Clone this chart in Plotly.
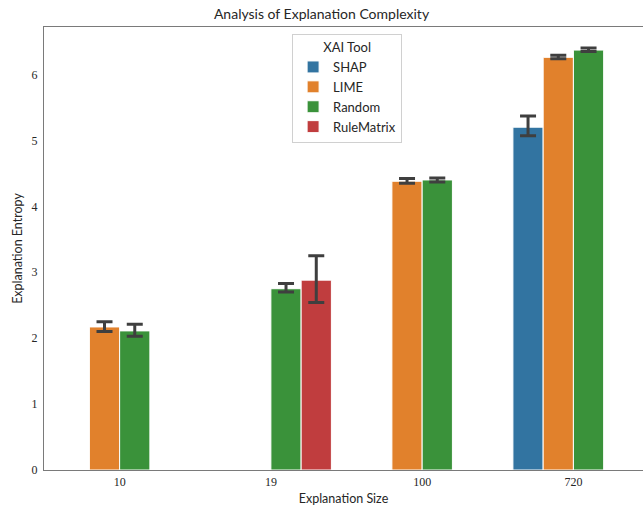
import plotly.graph_objects as go

categories = ["10", "19", "100", "720"]
tools = ["SHAP", "LIME", "Random", "RuleMatrix"]
colors = ["#3274a1", "#e1812c", "#3a923a", "#c03d3e"]

shap_vals = [None, None, None, 5.20]
shap_hi = [None, None, None, 5.37]
shap_lo = [None, None, None, 5.07]

lime_vals = [2.17, None, 4.38, 6.26]
lime_hi = [2.25, None, 4.42, 6.29]
lime_lo = [2.10, None, 4.35, 6.24]

random_vals = [2.11, 2.75, 4.40, 6.37]
random_hi = [2.21, 2.83, 4.43, 6.40]
random_lo = [2.03, 2.70, 4.37, 6.35]

rule_vals = [None, 2.88, None, None]
rule_hi = [None, 3.25, None, None]
rule_lo = [None, 2.54, None, None]

series = [
    (shap_vals, shap_hi, shap_lo),
    (lime_vals, lime_hi, lime_lo),
    (random_vals, random_hi, random_lo),
    (rule_vals, rule_hi, rule_lo),
]

fig = go.Figure()
for name, color, (v, hi, lo) in zip(tools, colors, series):
    plus = [None if a is None else h - a for a, h in zip(v, hi)]
    minus = [None if a is None else a - l for a, l in zip(v, lo)]
    fig.add_trace(go.Bar(
        x=categories, y=v, name=name,
        marker=dict(color=color, line=dict(color="white", width=1)),
        error_y=dict(type="data", symmetric=False, array=plus, arrayminus=minus,
                     color="#3f3f3f", thickness=3, width=8),
    ))

fig.update_layout(
    width=643, height=510,
    margin=dict(l=44, r=0, t=27, b=40),
    barmode="group", bargap=0.2, bargroupgap=0,
    plot_bgcolor="white", paper_bgcolor="white",
    font=dict(family="Lato, Open Sans, sans-serif", size=12, color="#262626"),
    title=dict(text="Analysis of Explanation Complexity", x=0.5, xanchor="center",
               y=1 - 14 / 510, yanchor="middle", font=dict(size=14, color="#262626")),
    legend=dict(title=dict(text="XAI Tool", side="top center", font=dict(size=13)),
                x=0.506, xanchor="center", y=0.984, yanchor="top",
                bordercolor="#d0d0d0", borderwidth=1, bgcolor="white",
                font=dict(size=13), itemwidth=30, tracegroupgap=0),
    showlegend=True,
)
fig.update_xaxes(
    type="category", range=[-0.5, 3.46],
    title=dict(text="Explanation Size", font=dict(size=12.5), standoff=6),
    showline=True, linecolor="#7a7a7a", linewidth=1.3, mirror=True,
    showgrid=False, ticks="", zeroline=False,
    tickfont=dict(family="Liberation Serif, serif", size=12, color="#262626"),
)
fig.update_yaxes(
    range=[0, 6.72], dtick=1,
    title=dict(text="Explanation Entropy", font=dict(size=12.5), standoff=6),
    showline=True, linecolor="#7a7a7a", linewidth=1.3, mirror=True,
    showgrid=False, ticks="", zeroline=False, ticklabelstandoff=3,
    tickfont=dict(family="Liberation Serif, serif", size=12, color="#262626"),
)

fig.write_html("out.html", config={"displayModeBar": False},
               post_script="document.body.style.margin='0px';")
